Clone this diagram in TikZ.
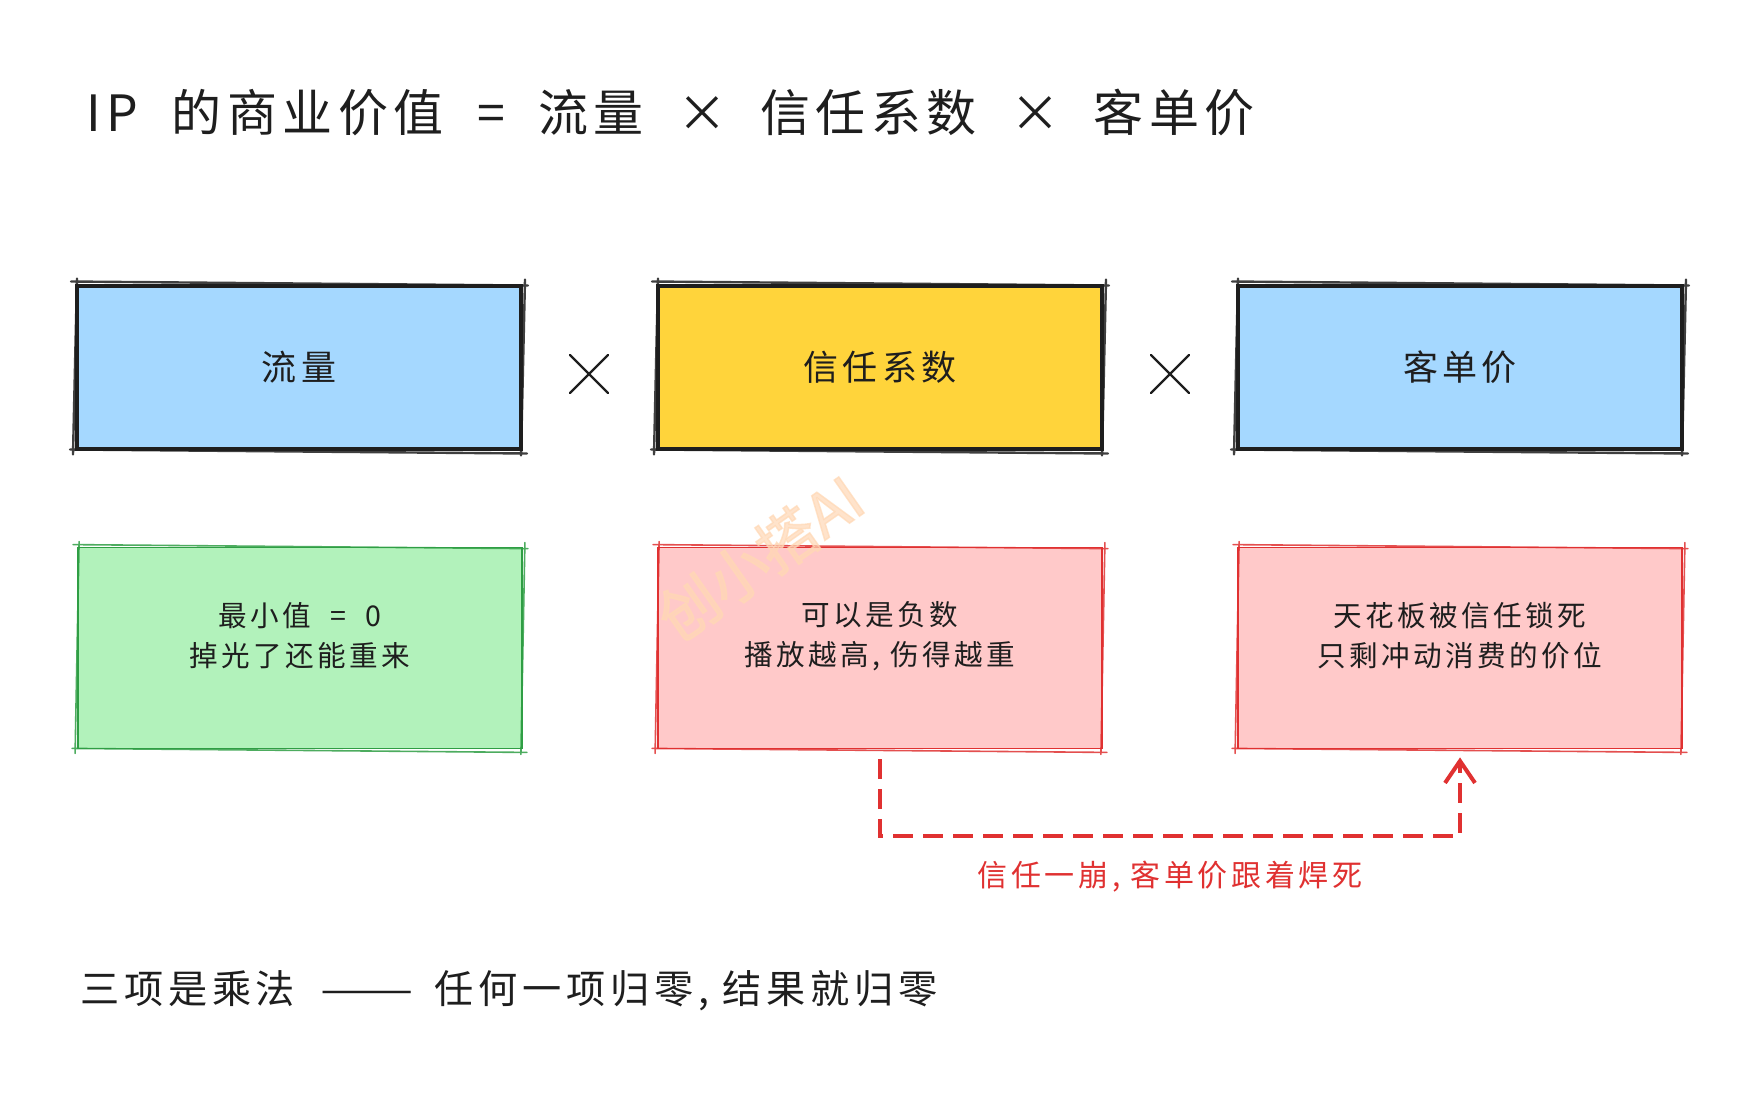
\documentclass[tikz,border=0pt]{standalone}
\usepackage{fontspec}
\usepackage{graphicx}
\setmainfont{Noto Sans CJK SC}
\newfontfamily\titlefont[LetterSpace=11]{Noto Sans CJK SC}
\newfontfamily\bodyfont[LetterSpace=12]{Noto Sans CJK SC}
\newfontfamily\wmfont[FakeBold=2.5]{Noto Sans CJK SC}
\usetikzlibrary{arrows.meta}
\definecolor{ink}{HTML}{1E1E1E}
\definecolor{bluefill}{HTML}{A5D8FF}
\definecolor{yellowfill}{HTML}{FFD43B}
\definecolor{greenfill}{HTML}{B2F2BB}
\definecolor{greenline}{HTML}{2F9E44}
\definecolor{redfill}{HTML}{FFC9C9}
\definecolor{redline}{HTML}{E03131}
\definecolor{wmcol}{HTML}{FFD8B5}
\tikzset{
  topbox/.style={draw=ink, line width=2pt, minimum width=222pt, minimum height=81.5pt, inner sep=0pt,
    text=ink, font=\bodyfont\fontsize{17.5}{20}\selectfont},
  lowbox/.style={line width=0.9pt, minimum width=222pt, minimum height=100.5pt, inner sep=0pt},
  desctext/.style={align=center, text=ink, inner sep=0pt, font=\bodyfont\fontsize{14.3}{20}\selectfont},
  timesmark/.style={draw=ink, line width=1.1pt, line cap=round},
  linkarrow/.style={draw=redline, line width=2.4pt, dash pattern=on 10pt off 5pt,
    -{Straight Barb[length=11pt, width=15pt, line width=2pt]}},
}
% rough second stroke for a hand-drawn look
\newcommand\roughline[3]{%
  \draw[#2, line width=#3, line cap=round, opacity=0.85]
    ([shift={(-4,-2)}]#1.north west) -- ([shift={(5,2)}]#1.north east)
    ([shift={(2,-4)}]#1.north east) -- ([shift={(-2,5)}]#1.south east)
    ([shift={(4,3)}]#1.south east) -- ([shift={(-5,-1)}]#1.south west)
    ([shift={(-2,4)}]#1.south west) -- ([shift={(2,-5)}]#1.north west);
}
\begin{document}
\begin{tikzpicture}[x=0.5pt, y=-0.5pt]
\useasboundingbox[fill=white] (0,0) rectangle (1760,1104);

% title
\node[anchor=west, text=ink, inner sep=0pt, font=\titlefont\fontsize{25}{30}\selectfont] (title) at (86,112)
  {IP\ \ 的商业价值\ \ =\ \ 流量\ \ ×\ \ 信任系数\ \ ×\ \ 客单价};

% top row
\node[topbox, fill=bluefill] (flow) at (299,367) {流量};
\node[topbox, fill=yellowfill] (trust) at (880,367) {信任系数};
\node[topbox, fill=bluefill] (price) at (1460,367) {客单价};
\roughline{flow}{ink}{1.2pt}
\roughline{trust}{ink}{1.2pt}
\roughline{price}{ink}{1.2pt}

% multiplication marks
\coordinate (m1) at (589,374);
\coordinate (m2) at (1170,374);
\draw[timesmark] ([shift={(-19,-19)}]m1) -- ([shift={(19,19)}]m1) ([shift={(19,-19)}]m1) -- ([shift={(-19,19)}]m1);
\draw[timesmark] ([shift={(-19,-19)}]m2) -- ([shift={(19,19)}]m2) ([shift={(19,-19)}]m2) -- ([shift={(-19,19)}]m2);

% bottom row
\node[lowbox, draw=greenline, fill=greenfill] (flowdesc) at (300,648) {};
\node[lowbox, draw=redline, fill=redfill] (trustdesc) at (880,648) {};
\node[lowbox, draw=redline, fill=redfill] (pricedesc) at (1460,648) {};
\roughline{flowdesc}{greenline}{0.8pt}
\roughline{trustdesc}{redline}{0.8pt}
\roughline{pricedesc}{redline}{0.8pt}
\node[desctext] (flowtext) at ([yshift=6pt]flowdesc.center) {最小值\ \ =\ \ 0\\掉光了还能重来};
\node[desctext] (trusttext) at ([yshift=6pt]trustdesc.center) {可以是负数\\播放越高, 伤得越重};
\node[desctext] (pricetext) at ([yshift=6pt]pricedesc.center) {天花板被信任锁死\\只剩冲动消费的价位};

% watermark
\node[rotate=35, text=wmcol, opacity=0.7, font=\wmfont\fontsize{30}{30}\selectfont] (wm) at (760,558) {创小搭AI};

% link arrow
\coordinate (turnL) at (880,836);
\coordinate (turnR) at (1460,836);
\draw[linkarrow] ([yshift=-5pt]trustdesc.south) -- (turnL) -- (turnR) -- ([yshift=-4pt]pricedesc.south);
\node[text=redline, font=\bodyfont\fontsize{15}{18}\selectfont] (linklabel) at (1170,877) {信任一崩, 客单价跟着焊死};

% footer
\node[anchor=west, text=ink, inner sep=0pt, font=\bodyfont\fontsize{19.6}{24}\selectfont] (footer) at (80,991)
  {三项是乘法\ \hspace{6pt}\scalebox{1.42}[1]{——}\ \ \hspace{-3pt}任何一项归零, 结果就归零};
\end{tikzpicture}
\end{document}
